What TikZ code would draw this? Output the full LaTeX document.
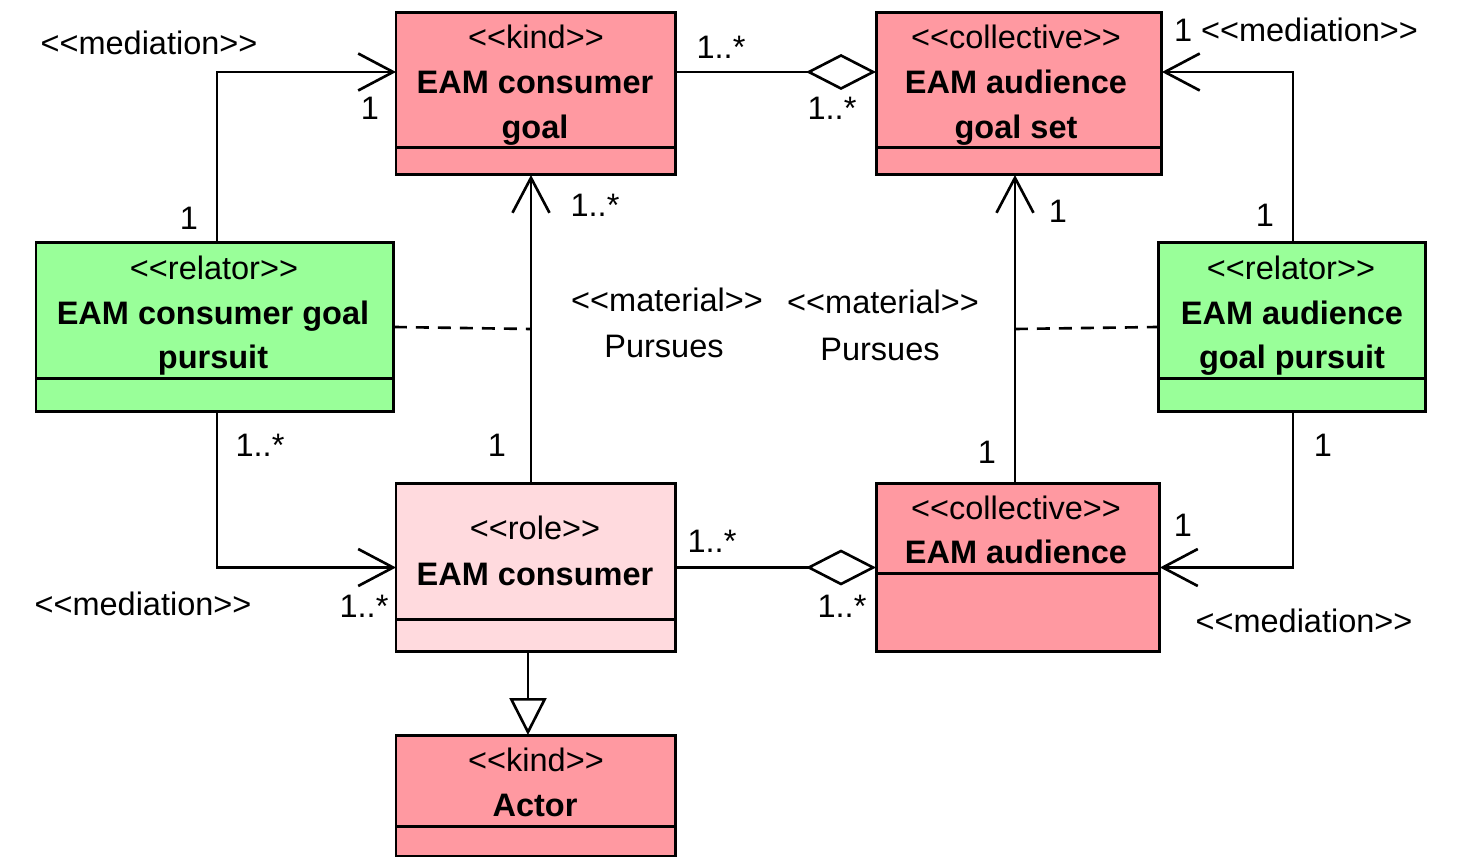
\documentclass[tikz,border=0pt]{standalone}
\usepackage{fontspec}
\setmainfont{Liberation Sans}
\usetikzlibrary{arrows.meta}
\definecolor{kindred}{HTML}{FF99A1}
\definecolor{rolepink}{HTML}{FFDADE}
\definecolor{relgreen}{HTML}{99FF99}
\newcommand{\ster}[1]{<{}<#1>{}>}

\begin{document}
\begin{tikzpicture}[x=0.02cm, y=-0.02cm,
    box/.style={draw, line width=1.7pt, anchor=north west, inner sep=0, outer sep=0},
    txt/.style={font=\fontsize{18.5}{22}\selectfont, inner sep=0, text height=13.3pt, text depth=0pt},
    btxt/.style={txt, font=\fontsize{18.5}{22}\selectfont\bfseries},
    conn/.style={line width=1.5pt},
    med/.style={conn, -{Straight Barb[length=0.7cm, width=0.74cm, line width=1.5pt]}},
    agg/.style={conn, -{Diamond[open, length=1.4cm, width=0.72cm, line width=1.5pt]}},
    gen/.style={conn, -{Triangle[open, length=0.74cm, width=0.74cm, line width=1.5pt]}},
    dashline/.style={conn, dash pattern=on 0.26cm off 0.18cm}]
  \useasboundingbox (0,0) rectangle (1467,867);

  % classes
  \node[box, fill=kindred, minimum width=5.6cm, minimum height=3.26cm] (goal) at (396,12) {};
  \draw[line width=1.7pt] (goal.west |- 0,147) -- (goal.east |- 0,147);
  \node[txt] (goalst) at (536,37) {\ster{kind}};
  \node[btxt] (goalnm1) at (535,82) {EAM consumer};
  \node[btxt] (goalnm2) at (535,127) {goal};

  \node[box, fill=kindred, minimum width=5.72cm, minimum height=3.26cm] (gset) at (876,12) {};
  \draw[line width=1.7pt] (gset.west |- 0,147) -- (gset.east |- 0,147);
  \node[txt] (gsetst) at (1016,37) {\ster{collective}};
  \node[btxt] (gsetnm1) at (1016,82) {EAM audience};
  \node[btxt] (gsetnm2) at (1016,127) {goal set};

  \node[box, fill=relgreen, minimum width=7.16cm, minimum height=3.4cm] (cpur) at (36,242) {};
  \draw[line width=1.7pt] (cpur.west |- 0,378) -- (cpur.east |- 0,378);
  \node[txt] (cpurst) at (214,268) {\ster{relator}};
  \node[btxt] (cpurnm1) at (213,313) {EAM consumer goal};
  \node[btxt] (cpurnm2) at (213,357) {pursuit};

  \node[box, fill=relgreen, minimum width=5.36cm, minimum height=3.4cm] (apur) at (1158,242) {};
  \draw[line width=1.7pt] (apur.west |- 0,378) -- (apur.east |- 0,378);
  \node[txt] (apurst) at (1291,268) {\ster{relator}};
  \node[btxt] (apurnm1) at (1292,313) {EAM audience};
  \node[btxt] (apurnm2) at (1292,357) {goal pursuit};

  \node[box, fill=rolepink, minimum width=5.6cm, minimum height=3.38cm] (cons) at (396,483) {};
  \draw[line width=1.7pt] (cons.west |- 0,619) -- (cons.east |- 0,619);
  \node[txt] (consst) at (535,528) {\ster{role}};
  \node[btxt] (consnm) at (535,574) {EAM consumer};

  \node[box, fill=kindred, minimum width=5.68cm, minimum height=3.38cm] (aud) at (876,483) {};
  \draw[line width=1.7pt] (aud.west |- 0,573) -- (aud.east |- 0,573);
  \node[txt] (audst) at (1016,508) {\ster{collective}};
  \node[btxt] (audnm) at (1016,552) {EAM audience};

  \node[box, fill=kindred, minimum width=5.6cm, minimum height=2.42cm] (actor) at (396,735) {};
  \draw[line width=1.7pt] (actor.west |- 0,826) -- (actor.east |- 0,826);
  \node[txt] (actorst) at (536,760) {\ster{kind}};
  \node[btxt] (actornm) at (535,805) {Actor};

  % connectors
  \draw[med] ([xshift=0.04cm]cpur.north) |- ([yshift=0.43cm]goal.west);
  \draw[med] ([xshift=0.04cm]cpur.south) |- (cons.west);
  \draw[med] ([xshift=-0.1cm]cons.north) -- ([xshift=-0.1cm]goal.south) coordinate[pos=0.5] (cpath);
  \draw[med] ([xshift=-0.06cm]aud.north) -- ([xshift=-0.06cm]aud.north |- gset.south) coordinate[pos=0.5] (apath);
  \draw[med] ([xshift=0.02cm]apur.north) |- ([yshift=0.43cm]gset.east);
  \draw[med] ([xshift=0.02cm]apur.south) |- (aud.east);
  \draw[agg] ([yshift=0.43cm]goal.east) -- ([yshift=0.43cm]gset.west);
  \draw[agg] (cons.east) -- (aud.west);
  \draw[gen] ([xshift=-0.16cm]cons.south) -- ([xshift=-0.16cm]actor.north);
  \draw[dashline] (cpur.east) -- (cpath);
  \draw[dashline] (apath) -- (apur.west);

  % labels
  \node[txt] (m1) at (149,43) {\ster{mediation}};
  \node[txt] (m1a) at (370,108) {1};
  \node[txt] (m1b) at (189,218) {1};
  \node[txt] (m2) at (143,604) {\ster{mediation}};
  \node[txt] (m2a) at (364,606) {1..*};
  \node[txt] (m2b) at (260,445) {1..*};
  \node[txt] (p1) at (667,300) {\ster{material}};
  \node[txt] (p1b) at (664,346) {Pursues};
  \node[txt] (p1c) at (595,205) {1..*};
  \node[txt] (p1d) at (497,445) {1};
  \node[txt] (p2) at (883,302) {\ster{material}};
  \node[txt] (p2b) at (880,349) {Pursues};
  \node[txt] (p2c) at (1058,211) {1};
  \node[txt] (p2d) at (987,452) {1};
  \node[txt] (m3) at (1296,30) {1 \ster{mediation}};
  \node[txt] (m3b) at (1265,215) {1};
  \node[txt] (m4) at (1304,621) {\ster{mediation}};
  \node[txt] (m4a) at (1183,525) {1};
  \node[txt] (m4b) at (1323,445) {1};
  \node[txt] (a1a) at (721,47) {1..*};
  \node[txt] (a1b) at (832,108) {1..*};
  \node[txt] (a2a) at (712,541) {1..*};
  \node[txt] (a2b) at (842,606) {1..*};
\end{tikzpicture}
\end{document}
